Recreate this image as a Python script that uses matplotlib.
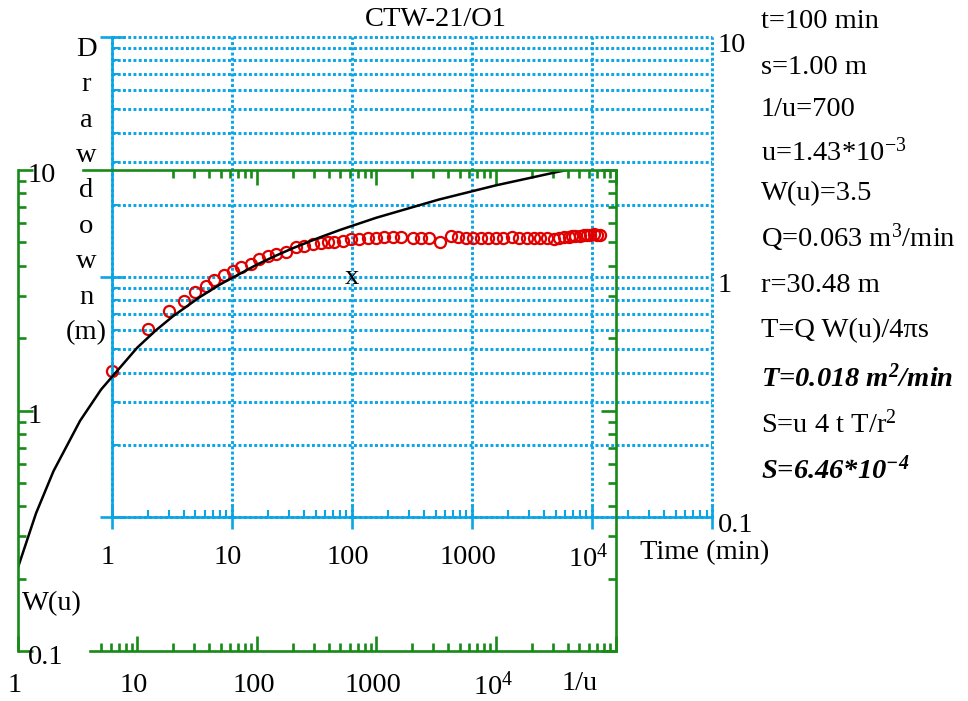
import numpy as np
import matplotlib.pyplot as plt
from matplotlib.transforms import offset_copy

plt.rcParams['font.family'] = ['Liberation Serif', 'DejaVu Serif']
plt.rcParams['mathtext.fontset'] = 'custom'
plt.rcParams['mathtext.rm'] = 'Liberation Serif'
plt.rcParams['mathtext.it'] = 'Liberation Serif:italic'
plt.rcParams['mathtext.bf'] = 'Liberation Serif:bold'
plt.rcParams['mathtext.bfit'] = 'Liberation Serif:italic:bold'

# type curve (Theis), 1/u vs W(u)
inv_u = [1, 1.4286, 2, 3.333, 5, 10, 14.29, 20, 33.33, 50, 100, 142.9, 200,
         333.3, 500, 1000, 3333, 10000, 33333, 100000]
W_u = [0.2194, 0.3738, 0.5598, 0.9057, 1.2227, 1.8229, 2.1508, 2.4679, 2.9591,
       3.3547, 4.0379, 4.3916, 4.7261, 5.2349, 5.6394, 6.3315, 7.5348, 8.6332,
       9.8371, 10.9357]

# observed drawdown
t_obs = [1, 2, 3, 4, 5, 6.1, 7.1, 8.6, 10.2, 11.9, 14.5, 16.9, 20, 23.4, 28.3,
         34.3, 40, 47.6, 55.6, 63.5, 71.3, 84.8, 98.9, 115, 137, 160, 186, 222,
         258, 326, 380, 443, 547, 676, 773, 901, 1031, 1203, 1376, 1604, 1836,
         2142, 2449, 2858, 3268, 3667, 4196, 4798, 5285, 5818, 6404, 6779, 7180,
         7907, 8547, 9058, 9590, 10360, 10970, 11620]
s_obs = [0.407, 0.610, 0.724, 0.798, 0.870, 0.913, 0.967, 1.015, 1.055, 1.096,
         1.128, 1.183, 1.218, 1.242, 1.277, 1.328, 1.341, 1.367, 1.380, 1.393,
         1.393, 1.406, 1.435, 1.435, 1.449, 1.449, 1.462, 1.462, 1.462, 1.449,
         1.449, 1.449, 1.393, 1.476, 1.462, 1.449, 1.449, 1.449, 1.449, 1.449,
         1.449, 1.462, 1.449, 1.449, 1.449, 1.449, 1.449, 1.44, 1.45, 1.462,
         1.462, 1.476, 1.476, 1.476, 1.49, 1.49, 1.49, 1.504, 1.49, 1.49]

match_t, match_s = 100, 1.0

right_text = ['t=100 min', 's=1.00 m', '1/u=700', 'u=1.43*10$^{-3}$', 'W(u)=3.5',
              'Q=0.063 m$^3$/min', 'r=30.48 m', 'T=Q W(u)/4\u03c0s',
              'T=0.018 m$^{\\mathbfit{2}}$/min', 'S=u 4 t T/r$^2$',
              'S=6.46*10$^{\\mathbfit{-4}}$']
right_bold = [False] * 8 + [True, False, True]

x_major = [1, 10, 100, 1000, 1e4, 1e5]
x_labels = ['1', '10', '100', '1000', '10$^4$', '']
y_major = [0.1, 1, 10]
y_labels = ['0.1', '1', '10']

blue = '#0aa5e6'
green = '#178a17'
red = '#e00000'
fs = 20.5

W_PX, H_PX = 968, 701
fig = plt.figure(figsize=(W_PX / 100, H_PX / 100), dpi=100)

def box(x0, x1, y0, y1):
    return [x0 / W_PX, 1 - y1 / H_PX, (x1 - x0) / W_PX, (y1 - y0) / H_PX]

ax_b = fig.add_axes(box(111.5, 712, 37, 517))
ax_g = fig.add_axes(box(17.5, 615.5, 170, 651))
ax_b.set_zorder(1)
ax_g.set_zorder(2)
for ax in (ax_b, ax_g):
    ax.patch.set_visible(False)
    ax.set_xscale('log')
    ax.set_yscale('log')
    ax.set_xlim(1, 1e5)
    ax.set_ylim(0.1, 10)

minor_x = [m * 10 ** k for k in range(5) for m in range(2, 10)]
minor_y = [m * 10.0 ** k for k in (-1, 0) for m in range(2, 10)]

# ---- blue axes: time / drawdown
ax_b.set_xticks(x_major, [''] * len(x_major))
ax_b.set_xticks(minor_x, [''] * len(minor_x), minor=True)
ax_b.set_yticks(y_major, [''] * 3)
ax_b.set_yticks(minor_y, [''] * len(minor_y), minor=True)
for s in ('top', 'right'):
    ax_b.spines[s].set_visible(False)
for s in ('left', 'bottom'):
    ax_b.spines[s].set_color(blue)
    ax_b.spines[s].set_linewidth(1.9)
ax_b.tick_params(which='major', direction='inout', length=17, width=1.9, color=blue)
ax_b.tick_params(which='minor', direction='in', length=5, width=1.5, color=blue)
ax_b.grid(True, which='major', axis='x', color=blue, lw=2.1, ls=(0, (1.0, 0.8)))
ax_b.grid(True, which='both', axis='y', color=blue, lw=2.1, ls=(0, (1.0, 0.8)))
for ln in ax_b.get_xgridlines() + ax_b.get_ygridlines():
    ln.set_clip_on(False)
ax_b.plot(t_obs, s_obs, 'o', ms=8, mfc='none', mec=red, mew=1.6, clip_on=False)
ax_b.text(match_t, match_s, 'x', ha='center', va='center', fontsize=fs)

tr = offset_copy(ax_b.get_xaxis_transform(), fig, x=-4, y=-38, units='dots')
for v, lab in zip(x_major, x_labels):
    ax_b.text(v, 0, lab, transform=tr, ha='center', va='center_baseline', fontsize=fs)
tr = offset_copy(ax_b.get_yaxis_transform(), fig, x=6, y=-5, units='dots')
for v, lab in zip(y_major, y_labels):
    ax_b.text(1, v, lab, transform=tr, ha='left', va='center_baseline', fontsize=fs)

# ---- green axes: 1/u / W(u)
ax_g.plot(inv_u, W_u, color='black', lw=1.8)
g_minor_x = [m for m in minor_x if m >= 5]
ax_g.set_xticks(x_major, [''] * len(x_major))
ax_g.set_xticks(g_minor_x, [''] * len(g_minor_x), minor=True)
ax_g.set_yticks(y_major, [''] * 3)
ax_g.set_yticks(minor_y, [''] * len(minor_y), minor=True)
for s in ax_g.spines.values():
    s.set_color(green)
    s.set_linewidth(1.9)
ax_g.spines['bottom'].set_bounds(4.07, 1e5)
ax_g.spines['top'].set_bounds(3.5, 1e5)
ax_g.tick_params(which='both', direction='in', top=False, right=True,
                 color=green, width=1.9)
ax_g.tick_params(which='major', length=11)
ax_g.tick_params(which='minor', length=6)

sec = ax_g.secondary_xaxis('top')
sec.set_xticks([x for x in x_major if x >= 100], [''] * 4)
top_minor = [m for m in minor_x if m >= 20]
sec.set_xticks(top_minor, [''] * len(top_minor), minor=True)
sec.spines['top'].set_visible(False)
sec.tick_params(which='both', direction='in', color=green, width=1.9)
sec.tick_params(which='major', length=11)
sec.tick_params(which='minor', length=6)

tr = offset_copy(ax_g.get_xaxis_transform(), fig, x=-3, y=-32, units='dots')
for v, lab in zip(x_major, x_labels):
    ax_g.text(v, 0, lab, transform=tr, ha='center', va='center_baseline', fontsize=fs)
tr = offset_copy(ax_g.get_yaxis_transform(), fig, x=10, y=-3, units='dots')
for v, lab in zip(y_major, y_labels):
    ax_g.text(0, v, lab, transform=tr, ha='left', va='center_baseline', fontsize=fs)

# ---- labels and notes
fig.text(436 / W_PX, 1 - 19 / H_PX, 'CTW-21/O1', ha='center', va='center', fontsize=fs)
fig.text(86 / W_PX, 1 - 191 / H_PX, '\n'.join(list('Drawdown') + ['(m)']),
         ha='center', va='center', fontsize=fs, linespacing=1.55)
fig.text(640 / W_PX, 1 - 553 / H_PX, 'Time (min)', ha='left', va='center', fontsize=fs)
fig.text(22 / W_PX, 1 - 604 / H_PX, 'W(u)', ha='left', va='center', fontsize=fs)
fig.text(580 / W_PX, 1 - 684 / H_PX, '1/u', ha='center', va='center', fontsize=fs)

row_y = [22, 67, 109, 152, 194, 238, 285, 331, 378, 424, 470]
for y, txt, b in zip(row_y, right_text, right_bold):
    fig.text(761 / W_PX, 1 - y / H_PX, txt, ha='left', va='center', fontsize=fs,
             fontweight='bold' if b else 'normal', style='italic' if b else 'normal')

fig.savefig('out.png', dpi=100)
